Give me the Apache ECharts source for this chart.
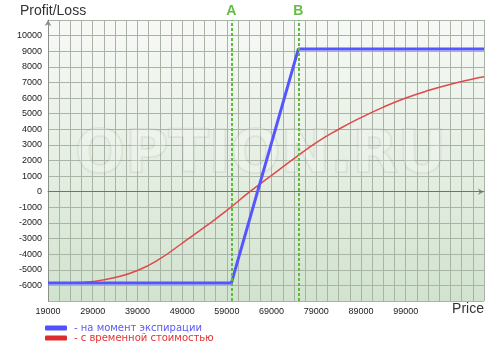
<!DOCTYPE html>
<html><head><meta charset="utf-8">
<script src="https://cdn.jsdelivr.net/npm/echarts@6/dist/echarts.min.js"></script>
<style>html,body{margin:0;padding:0;background:#fff}#c{width:498px;height:354px}</style>
</head><body><div id="c"></div>
<script>
// Expiration payoff (bull call spread)
const expiryPrices = [19000, 60000, 75000, 116500];
const expiryPL = [-5850, -5850, 9150, 9150];
// P/L with time value
const timePrices = [19000, 24000, 29000, 34000, 39000, 44000, 49000, 54000, 59000, 64000, 69000, 74000, 79000, 84000, 89000, 94000, 99000, 104000, 109000, 114000, 116500];
const timePL = [-5850, -5840, -5750, -5500, -5050, -4300, -3300, -2270, -1200, -30, 1050, 2120, 3150, 4000, 4750, 5420, 6000, 6480, 6880, 7220, 7370];
// strikes
const strikeValues = [60000, 75000];
const strikeNames = ['A', 'B'];
const seriesNames = ['- на момент экспирации', '- с временной стоимостью'];
const xLabelValues = [19000, 29000, 39000, 49000, 59000, 69000, 79000, 89000, 99000];
const yLabelMin = -6000, yLabelMax = 10000;

const chart = echarts.init(document.getElementById('c'), null, {renderer: 'canvas'});
const font = 'Liberation Sans, Arial, sans-serif';
const option = {
  animation: false,
  grid: {
    left: 48, right: 14, top: 20, bottom: 53, show: true, borderWidth: 0,
    backgroundColor: new echarts.graphic.LinearGradient(0, 0, 0, 1, [
      {offset: 0, color: '#f7f9f6'}, {offset: 0.5, color: '#e6efe4'}, {offset: 1, color: '#d1e3ce'}
    ])
  },
  xAxis: {
    type: 'value', min: 19000, max: 116500, interval: 2500,
    axisLine: {show: true, lineStyle: {color: '#8a8f88', width: 1}, symbol: ['none', 'arrow'], symbolSize: [5, 6]},
    axisTick: {show: false},
    splitLine: {show: true, lineStyle: {color: '#a9b4a7', width: 1}},
    axisLabel: {
      margin: 6, fontSize: 9, color: '#1a1a1a', fontFamily: font,
      showMinLabel: true, showMaxLabel: false,
      formatter: v => xLabelValues.indexOf(Math.round(v)) >= 0 ? String(Math.round(v)) : ''
    }
  },
  yAxis: {
    type: 'value', min: -7000, max: 11000, interval: 1000,
    axisLine: {show: true, lineStyle: {color: '#8a8f88', width: 1}, symbol: ['none', 'arrow'], symbolSize: [5, 6]},
    axisTick: {show: false},
    splitLine: {show: true, lineStyle: {color: '#a9b4a7', width: 1}},
    axisLabel: {
      margin: 6, fontSize: 9, color: '#1a1a1a', fontFamily: font,
      formatter: v => (v >= yLabelMin && v <= yLabelMax) ? String(v) : ''
    }
  },
  legend: {
    orient: 'vertical', left: 45, top: 323, padding: 0, itemGap: 0,
    itemWidth: 22, itemHeight: 5, icon: 'roundRect',
    textStyle: {fontSize: 10, fontFamily: 'DejaVu Sans, sans-serif', lineHeight: 10, padding: [0, 0, 0, 2]},
    data: [
      {name: seriesNames[0], textStyle: {color: '#5b5bf0'}},
      {name: seriesNames[1], textStyle: {color: '#e03333'}}
    ]
  },
  graphic: [
    {type: 'text', left: 20, top: 4, z: 10, style: {text: 'Profit/Loss', fontSize: 14, fontFamily: font, fill: '#333'}},
    {type: 'text', right: 14, top: 302, z: 10, style: {text: 'Price', fontSize: 14, fontFamily: font, fill: '#333'}},
    {type: 'text', left: 74, top: 126, z: 1, silent: true,
     style: {text: 'OPTION.RU', fontSize: 59, fontWeight: 'bold', fontFamily: 'DejaVu Sans, sans-serif',
             fill: 'rgba(255,255,255,0.22)', stroke: 'rgba(120,130,118,0.13)', lineWidth: 2}}
  ],
  series: [
    {
      name: seriesNames[1], type: 'line', smooth: true, showSymbol: false, z: 3,
      data: timePrices.map((p, i) => [p, timePL[i]]),
      lineStyle: {color: '#de4a4a', width: 1.5}, itemStyle: {color: '#dd2b2b'},
      markLine: {
        silent: true, symbol: 'none', animation: false,
        lineStyle: {color: '#6d766b', width: 1, type: 'solid'},
        label: {show: false},
        data: [{yAxis: 0}]
      }
    },
    {
      name: seriesNames[0], type: 'line', showSymbol: false, z: 4,
      data: expiryPrices.map((p, i) => [p, expiryPL[i]]),
      lineStyle: {color: '#5555ff', width: 3}, itemStyle: {color: '#5050ff'},
      markLine: {
        silent: true, symbol: 'none', animation: false,
        lineStyle: {color: '#5cba3c', width: 2, type: [3, 2]},
        label: {show: true, position: 'end', distance: 2, color: '#66bb44', fontSize: 14, fontWeight: 'bold', fontFamily: font,
                formatter: p => p.name},
        data: strikeValues.map((v, i) => ({xAxis: v, name: strikeNames[i]}))
      }
    }
  ]
};
chart.setOption(option);
</script></body></html>
